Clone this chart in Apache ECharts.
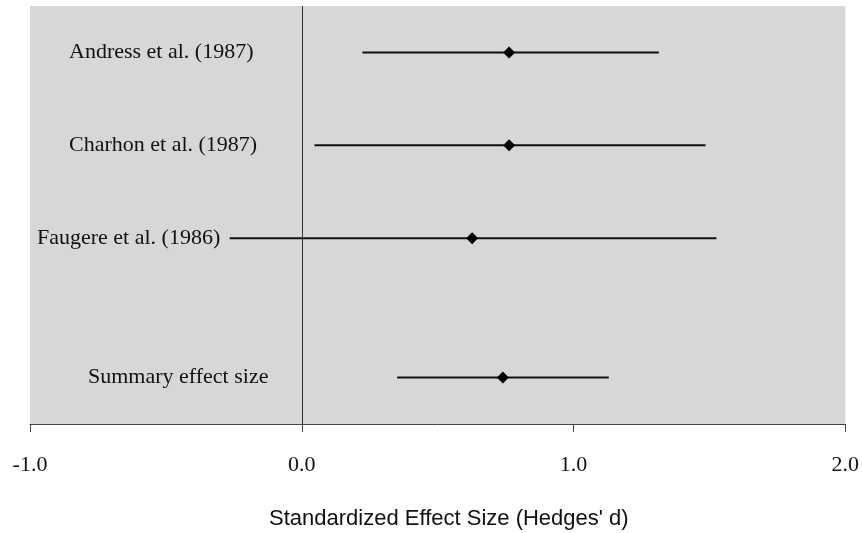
<!DOCTYPE html>
<html><head><meta charset="utf-8">
<script src="https://cdn.jsdelivr.net/npm/echarts@6/dist/echarts.min.js"></script>
<style>html,body{margin:0;padding:0;background:#fff}#c{width:862px;height:533px}</style>
</head><body><div id="c"></div>
<script>
var studies = ["Andress et al. (1987)", "Charhon et al. (1987)", "Faugere et al. (1986)", "Summary effect size"];
var rowPos = [0.5, 1.5, 2.5, 4.0];
var effect = [0.763, 0.763, 0.627, 0.740];
var lower = [0.223, 0.047, -0.265, 0.351];
var upper = [1.314, 1.486, 1.526, 1.130];
var xTicks = [-1, 0, 1, 2];

var labelLeft = [69, 69, 37, 88];

var chart = echarts.init(document.getElementById('c'));
var data = studies.map(function(s, i){ return [lower[i], upper[i], effect[i], rowPos[i]]; });

chart.setOption({
  animation: false,
  grid: {left: 30, right: 14, top: 6, bottom: 109, show: true, backgroundColor: '#d7d7d7', borderWidth: 0},
  xAxis: {
    type: 'value', min: xTicks[0], max: xTicks[xTicks.length-1], interval: 1,
    axisLine: {show: true, onZero: false, lineStyle: {color: '#444', width: 1}},
    axisTick: {show: true, length: 8, lineStyle: {color: '#444'}},
    splitLine: {show: false},
    axisLabel: {margin: 30, color: '#111', fontFamily: 'Liberation Serif', fontSize: 22,
      formatter: function(v){ return v.toFixed(1); }}
  },
  yAxis: {type: 'value', min: 0, max: 4.5, inverse: true, show: false},
  series: [{
    type: 'custom',
    data: data,
    renderItem: function(params, api){
      var lo = api.coord([api.value(0), api.value(3)]);
      var hi = api.coord([api.value(1), api.value(3)]);
      var pt = api.coord([api.value(2), api.value(3)]);
      var r = 6;
      var idx = params.dataIndex;
      return {type: 'group', children: [
        {type: 'line', shape: {x1: lo[0], y1: lo[1], x2: hi[0], y2: hi[1]}, style: {stroke: '#111', lineWidth: 2}},
        {type: 'polygon', shape: {points: [[pt[0], pt[1]-r], [pt[0]+r, pt[1]], [pt[0], pt[1]+r], [pt[0]-r, pt[1]]]}, style: {fill: '#000'}},
        {type: 'text', x: labelLeft[idx], y: pt[1], style: {text: studies[idx], fill: '#111', font: '22px "Liberation Serif"', textVerticalAlign: 'middle', textAlign: 'left'}}
      ]};
    },
    markLine: {
      silent: true, symbol: 'none', label: {show: false},
      lineStyle: {color: '#333', width: 1, type: 'solid'},
      data: [{xAxis: 0}]
    }
  }],
  graphic: [{
    type: 'text', left: 269, top: 508,
    style: {text: "Standardized Effect Size (Hedges' d)", fill: '#111', font: '22px "Liberation Sans"'}
  }]
});
</script>
</body></html>
